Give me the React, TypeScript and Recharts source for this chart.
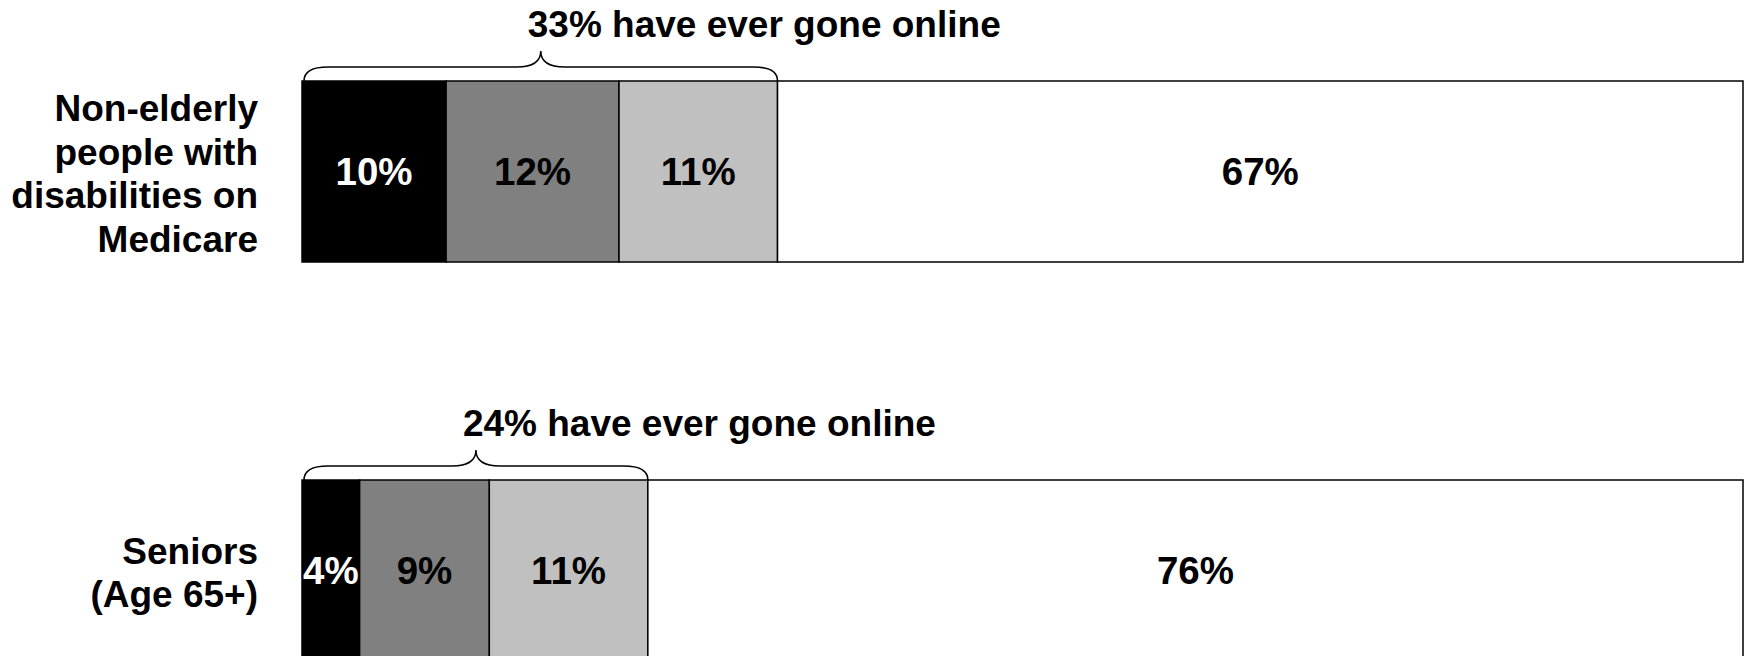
import { Bar, BarChart, LabelList, XAxis, YAxis } from 'recharts';

const categories = ['Non-elderly people with disabilities on Medicare', 'Seniors (Age 65+)'];
const categoryLines = [
  ['Non-elderly', 'people with', 'disabilities on', 'Medicare'],
  ['Seniors', '(Age 65+)'],
];
// shares of each group, left to right
const mostOnline = [10, 4];
const middleOnline = [12, 9];
const leastOnline = [11, 11];
const neverOnline = [67, 76];
const everOnline = [33, 24];

const data = categories.map((name, i) => ({
  name,
  a: mostOnline[i],
  b: middleOnline[i],
  c: leastOnline[i],
  never: neverOnline[i],
  ever: everOnline[i],
}));

const FONT = '"Liberation Sans", Arial, Helvetica, sans-serif';
const pct = (v: any) => `${v}%`;

const CategoryTick = ({ x, y, payload }: any) => {
  const lines = categoryLines[categories.indexOf(payload.value)] ?? [payload.value];
  const lineHeight = 43.5;
  const first = -((lines.length - 1) / 2) * lineHeight + 15;
  return (
    <text x={x} y={y} textAnchor="end" fontSize={37} fontWeight={700} fill="#000" fontFamily={FONT}>
      {lines.map((line, i) => (
        <tspan key={i} x={x} dy={i === 0 ? first : lineHeight}>{line}</tspan>
      ))}
    </text>
  );
};

// last "online" segment also draws the brace + note over the online part of the bar
const BraceShape = (props: any) => {
  const { x, y, width, height, fill, payload } = props;
  const perUnit = width / payload.c;
  const x0 = x + width - payload.ever * perUnit + 2;
  const x1 = x + width;
  const mid = (x0 + x1) / 2;
  const yLine = y - 14;
  const yPeak = y - 30;
  const r = 24;
  const d = `M${x0},${y} Q${x0},${yLine} ${x0 + r},${yLine} L${mid - r},${yLine} Q${mid},${yLine} ${mid},${yPeak} Q${mid},${yLine} ${mid + r},${yLine} L${x1 - r},${yLine} Q${x1},${yLine} ${x1},${y}`;
  return (
    <g>
      <rect x={x} y={y} width={width} height={height} fill={fill} stroke="#000" strokeWidth={1.5} />
      <path d={d} fill="none" stroke="#000" strokeWidth={1.5} />
      <text x={mid - 13} y={y - 44} fontSize={37} fontWeight={700} fill="#000" fontFamily={FONT}>
        {`${payload.ever}% have ever gone online`}
      </text>
    </g>
  );
};

export default function App() {
  const labelProps = { position: 'center' as const, fontSize: 38.5, fontWeight: 700, stroke: 'none', formatter: pct, fontFamily: FONT };
  return (
    <div style={{ position: 'fixed', left: 0, top: 0, width: 1747, height: 656, overflow: 'hidden', background: '#fff', fontFamily: FONT }}>
      <div style={{ position: 'relative', top: -28 }}>
        <BarChart width={1747} height={798} data={data} layout="vertical" margin={{ top: 0, right: 4, bottom: 0, left: 0 }} barSize={181}>
          <XAxis type="number" domain={[0, 100]} hide />
          <YAxis type="category" dataKey="name" width={302} axisLine={false} tickLine={false} tickSize={0} tickMargin={44} interval={0} tick={<CategoryTick />} />
          <Bar dataKey="a" stackId="s" fill="#000000" stroke="#000" strokeWidth={1.5} isAnimationActive={false}>
            <LabelList dataKey="a" fill="#fff" {...labelProps} />
          </Bar>
          <Bar dataKey="b" stackId="s" fill="#808080" stroke="#000" strokeWidth={1.5} isAnimationActive={false}>
            <LabelList dataKey="b" fill="#000" {...labelProps} />
          </Bar>
          <Bar dataKey="c" stackId="s" fill="#c0c0c0" stroke="#000" strokeWidth={1.5} isAnimationActive={false} shape={(p: any) => <BraceShape {...p} />}>
            <LabelList dataKey="c" fill="#000" {...labelProps} />
          </Bar>
          <Bar dataKey="never" stackId="s" fill="#ffffff" stroke="#000" strokeWidth={1.5} isAnimationActive={false}>
            <LabelList dataKey="never" fill="#000" {...labelProps} />
          </Bar>
        </BarChart>
      </div>
    </div>
  );
}
